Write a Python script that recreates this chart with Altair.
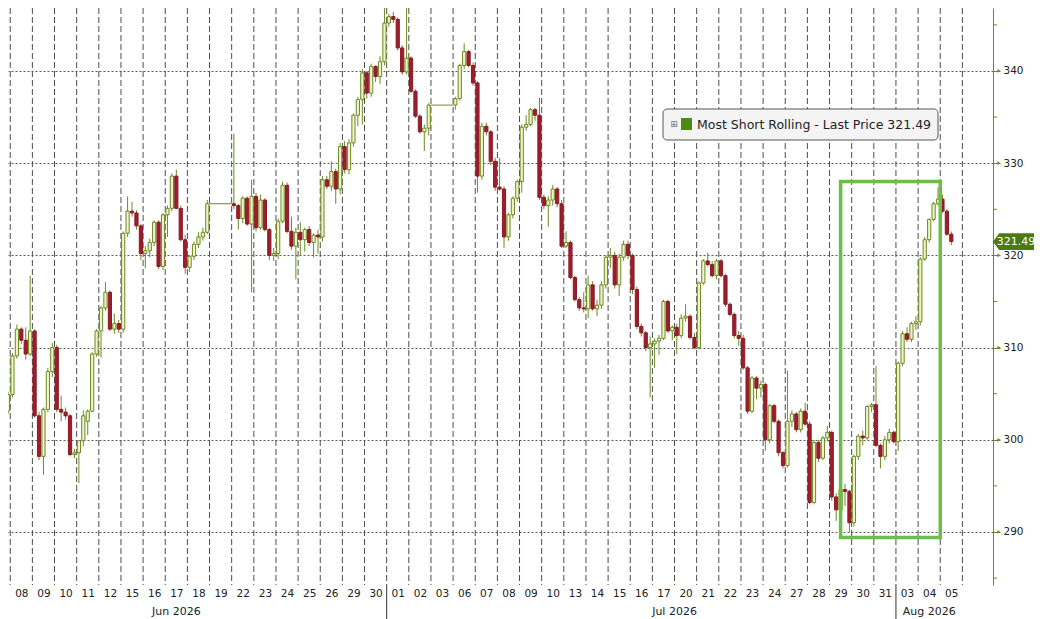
import json

import altair as alt
import pandas as pd

# ---- values ---------------------------------------------------------------
day_labels = ["05", "08", "09", "10", "11", "12", "15", "16", "17", "18", "19",
              "22", "23", "24", "25", "26", "29", "30", "01", "02", "03", "06",
              "07", "08", "09", "10", "13", "14", "15", "16", "17", "20", "21",
              "22", "23", "24", "27", "28", "29", "30", "31", "03", "04", "05"]
month_names = ["Jun 2026", "Jul 2026", "Aug 2026"]
month_first_day = [0, 18, 41]
month_label_day = [8, 30.5, 42]
holiday_days = [10, 20]
holiday_levels = [325.6, 336.3]
price_ticks = [290, 300, 310, 320, 330, 340]
minor_ticks = [285, 295, 305, 315, 325, 335, 345]
series_name = "Most Short Rolling"
highlight_days = [38, 42.5]
highlight_prices = [289.4, 328.0]

# one line per trading day (5 bars a day, last day partial)
opens = [
    302.0, 302.3, 302.6, 302.9, 303.1,
    304.9, 309.1, 312.0, 310.8, 309.3,
    311.8, 302.6, 298.2, 303.3, 307.4,
    310.0, 303.3, 303.0, 302.6, 298.4,
    298.6, 299.9, 302.0, 303.1, 309.3,
    311.8, 314.3, 316.0, 312.0, 312.6,
    312.0, 322.4, 324.8, 324.6, 323.2,
    320.2, 320.5, 321.4, 323.6, 318.8,
    324.4, 325.1, 328.6, 325.1, 321.7,
    318.7, 319.9, 321.2, 322.0, 322.5,
    325.6, 325.4, 324.0, 326.2, 323.4,
    326.4, 323.0, 326.0, 322.8, 320.0,
    320.2, 323.7, 327.6, 322.6, 321.0,
    322.5, 321.7, 322.8, 321.4, 322.2,
    322.0, 328.2, 327.5, 329.1, 327.2,
    331.8, 329.3, 332.2, 335.2, 336.9,
    339.8, 337.6, 340.5, 339.4, 341.0,
    345.2, 345.9, 345.6, 342.5, 339.9,
    341.4, 337.8, 335.1, 333.4, 333.8,
    336.3, 337.0, 340.6, 342.1, 340.6,
    338.7, 328.6, 334.0, 333.4, 330.2,
    327.4, 327.2, 322.0, 324.4, 326.2,
    328.0, 333.9, 334.2, 335.8, 335.2,
    326.3, 325.4, 326.0, 327.2, 325.6,
    321.0, 321.4, 317.6, 315.2, 314.3,
    314.2, 316.8, 314.2, 314.6, 316.8,
    319.8, 320.0, 316.8, 319.8, 321.2,
    320.0, 316.3, 312.3, 311.6, 310.0,
    310.4, 310.7, 311.0, 315.0, 311.8,
    312.2, 311.3, 313.2, 313.4, 311.1,
    310.0, 317.0, 319.4, 319.0, 317.8,
    319.4, 317.8, 314.7, 313.6, 311.3,
    311.0, 307.8, 303.1, 306.7, 305.6,
    306.0, 300.0, 303.7, 302.0, 298.6,
    297.2, 302.0, 302.8, 301.1, 303.1,
    301.7, 293.2, 299.7, 298.0, 300.2,
    300.8, 293.8, 292.4, 294.6, 294.4,
    291.0, 298.2, 300.4, 300.2, 303.6,
    303.8, 299.4, 298.2, 300.0, 300.8,
    299.8, 308.3, 311.5, 310.9, 312.6,
    312.8, 319.6, 321.7, 323.9, 325.6,
    326.1, 324.8, 322.3,
]
highs = [
    302.8, 303.0, 303.4, 304.0, 305.2,
    309.4, 312.5, 312.2, 312.2, 317.8,
    312.0, 303.0, 303.5, 307.8, 310.5,
    310.3, 304.8, 303.5, 302.8, 299.0,
    299.9, 303.2, 303.3, 309.5, 312.0,
    314.5, 317.1, 316.2, 313.7, 313.0,
    322.6, 326.4, 325.8, 324.9, 323.4,
    321.0, 321.8, 323.8, 323.8, 324.6,
    325.4, 328.9, 329.3, 325.4, 322.2,
    320.0, 321.5, 322.5, 323.0, 326.0,
    333.2, 325.6, 326.4, 326.4, 328.2,
    326.8, 326.6, 326.2, 323.0, 320.8,
    324.0, 328.0, 327.9, 324.2, 323.0,
    323.6, 323.0, 323.2, 322.4, 322.8,
    328.6, 328.6, 330.2, 329.4, 332.2,
    332.4, 332.6, 335.4, 337.2, 340.2,
    340.0, 340.8, 340.6, 341.6, 347.0,
    346.2, 346.4, 345.8, 342.8, 347.7,
    341.6, 338.0, 335.3, 334.2, 336.5,
    337.2, 340.8, 343.0, 342.3, 340.9,
    338.9, 334.4, 334.4, 333.6, 330.6,
    330.6, 327.5, 324.6, 326.4, 328.2,
    334.2, 335.2, 336.0, 336.0, 337.1,
    326.6, 326.4, 327.6, 327.4, 326.0,
    322.6, 321.6, 317.8, 315.5, 316.0,
    317.8, 317.2, 315.2, 317.2, 320.0,
    320.8, 320.4, 320.2, 321.6, 321.6,
    320.2, 316.6, 312.6, 311.8, 311.2,
    311.0, 311.4, 315.2, 315.2, 312.4,
    312.6, 313.6, 314.7, 313.6, 311.6,
    317.2, 319.6, 320.3, 319.4, 319.6,
    319.6, 318.0, 314.9, 313.8, 311.8,
    311.4, 308.0, 306.9, 306.9, 306.4,
    306.2, 303.9, 303.9, 302.2, 298.8,
    307.5, 303.2, 303.0, 303.4, 304.0,
    302.0, 300.0, 300.0, 300.4, 301.5,
    301.0, 294.2, 299.6, 295.2, 294.6,
    298.4, 300.6, 301.0, 303.8, 304.0,
    308.0, 299.6, 300.4, 301.2, 301.0,
    308.5, 311.8, 312.2, 312.8, 313.4,
    319.8, 322.0, 324.0, 325.8, 327.4,
    326.6, 325.0, 322.6,
]
lows = [
    301.2, 301.8, 302.0, 302.6, 302.8,
    304.6, 308.8, 310.4, 308.7, 309.1,
    302.4, 297.8, 296.2, 303.0, 306.8,
    303.0, 302.0, 302.2, 298.2, 298.0,
    295.3, 299.3, 300.5, 303.0, 309.0,
    308.9, 314.0, 311.8, 311.5, 311.6,
    311.6, 322.0, 324.2, 322.8, 319.5,
    318.6, 319.8, 321.0, 318.5, 318.4,
    322.0, 324.8, 325.0, 321.5, 318.0,
    318.2, 319.5, 320.8, 321.6, 322.3,
    325.0, 322.8, 323.5, 323.2, 316.0,
    322.6, 322.8, 322.6, 319.5, 319.4,
    319.6, 323.5, 322.4, 320.6, 317.4,
    320.0, 320.4, 321.0, 319.8, 320.2,
    321.5, 327.2, 327.0, 325.6, 326.6,
    328.9, 328.8, 331.8, 334.0, 334.2,
    337.0, 337.2, 338.8, 338.6, 340.6,
    344.8, 345.2, 342.2, 339.6, 339.6,
    337.6, 334.9, 333.2, 331.3, 333.0,
    335.8, 336.8, 340.2, 340.4, 338.4,
    326.8, 328.2, 333.0, 329.8, 327.0,
    327.0, 320.8, 321.6, 324.0, 325.8,
    326.8, 333.5, 334.0, 334.6, 326.0,
    325.0, 323.1, 325.4, 325.2, 320.8,
    320.8, 317.4, 315.0, 314.0, 313.8,
    313.2, 314.0, 313.4, 314.2, 316.4,
    318.6, 316.4, 315.6, 319.4, 319.6,
    315.8, 312.0, 311.2, 309.6, 304.6,
    307.8, 309.2, 310.8, 311.6, 310.8,
    309.3, 311.0, 312.8, 310.9, 309.8,
    309.8, 316.8, 318.8, 317.6, 317.4,
    317.6, 314.4, 313.4, 311.0, 310.2,
    307.6, 302.8, 302.9, 304.4, 304.6,
    298.8, 299.6, 301.8, 298.2, 296.9,
    297.0, 301.4, 300.8, 300.8, 301.5,
    293.0, 293.0, 297.6, 297.8, 299.8,
    293.4, 291.2, 292.0, 292.8, 290.0,
    290.6, 297.8, 299.4, 300.0, 303.0,
    299.2, 296.9, 297.8, 299.6, 299.6,
    298.8, 308.0, 310.6, 310.6, 311.9,
    312.4, 319.4, 321.4, 323.7, 325.4,
    324.6, 322.1, 321.1,
]
closes = [
    302.3, 302.6, 302.9, 303.1, 304.9,
    309.1, 312.0, 310.8, 309.3, 311.8,
    302.6, 298.2, 303.3, 307.4, 310.0,
    303.3, 303.0, 302.6, 298.4, 298.6,
    299.9, 302.6, 303.1, 309.3, 311.8,
    314.3, 316.0, 312.0, 312.6, 312.0,
    322.4, 324.8, 324.6, 323.2, 320.2,
    320.5, 321.4, 323.6, 318.8, 324.4,
    325.1, 328.6, 325.1, 321.7, 318.7,
    319.9, 321.2, 322.0, 322.5, 325.6,
    325.4, 324.0, 326.2, 323.4, 326.4,
    323.0, 326.0, 322.8, 320.0, 320.2,
    323.7, 327.6, 322.6, 321.0, 322.5,
    321.7, 322.8, 321.4, 322.2, 322.0,
    328.2, 327.5, 329.1, 327.2, 331.8,
    329.3, 332.2, 335.2, 336.9, 339.8,
    337.6, 340.5, 339.4, 341.0, 345.2,
    345.9, 345.6, 342.5, 339.9, 341.4,
    337.8, 335.1, 333.4, 333.8, 336.3,
    337.0, 340.6, 342.1, 340.6, 338.7,
    328.6, 334.0, 333.4, 330.2, 327.4,
    327.2, 322.0, 324.4, 326.2, 328.0,
    333.9, 334.2, 335.8, 335.2, 326.3,
    325.4, 326.0, 327.2, 325.6, 321.0,
    321.4, 317.6, 315.2, 314.3, 314.2,
    316.8, 314.2, 314.6, 316.8, 319.8,
    320.0, 316.8, 319.8, 321.2, 320.0,
    316.3, 312.3, 311.6, 310.0, 310.4,
    310.7, 311.0, 315.0, 311.8, 312.2,
    311.3, 313.2, 313.4, 311.1, 310.0,
    317.0, 319.4, 319.0, 317.8, 319.4,
    317.8, 314.7, 313.6, 311.3, 311.0,
    307.8, 303.1, 306.7, 305.6, 306.0,
    300.0, 303.7, 302.0, 298.6, 297.2,
    302.0, 302.8, 301.1, 303.1, 301.7,
    293.2, 299.7, 298.0, 300.2, 300.8,
    293.8, 292.4, 294.6, 294.4, 291.0,
    298.2, 300.4, 300.2, 303.6, 303.8,
    299.4, 298.2, 300.0, 300.8, 299.8,
    308.3, 311.5, 310.9, 312.6, 312.8,
    319.6, 321.7, 323.9, 325.6, 326.1,
    324.8, 322.3, 321.49,
]

# ---- layout ----------------------------------------------------------------
PER_DAY = 5
W, H = 985, 577
RIGHT = 41  # page width left after the 8px body margins
OLIVE = "#6b8a1d"
UP_FILL = "#eef3cc"
DOWN_FILL = "#9e1c2b"
BOX_GREEN = "#6cbd4a"
TAG_GREEN = "#4c7a12"
TAG_SHAPE = "M -1 0 L -0.7 -0.41 L 1 -0.41 L 1 0.41 L -0.7 0.41 Z"

rows = []
k = 0
for d in range(len(day_labels)):
    if d in holiday_days:
        continue
    n = min(PER_DAY, len(closes) - k)
    for j in range(n):
        rows.append({"x": d + (j - 2) / PER_DAY, "o": opens[k], "h": highs[k],
                     "l": lows[k], "c": closes[k]})
        k += 1
candles = pd.DataFrame(rows)

bounds = pd.DataFrame({"b": [d + 0.5 for d in range(len(day_labels))]})
holidays = pd.DataFrame({"x0": [d - 0.5 for d in holiday_days],
                         "x1": [d + 0.5 for d in holiday_days],
                         "p": holiday_levels})
months = pd.DataFrame({"d": month_label_day, "name": month_names})
month_bounds = pd.DataFrame({"b": [d - 0.5 for d in month_first_day[1:]]})
box = pd.DataFrame({"x0": [highlight_days[0]], "x1": [highlight_days[1]],
                    "y0": [highlight_prices[0]], "y1": [highlight_prices[1]]})
last = pd.DataFrame({"p": [closes[-1]], "t": [f"{closes[-1]:.2f}"]})
legend = pd.DataFrame({"t": [f"{series_name} - Last Price {closes[-1]:.2f}"]})
major = pd.DataFrame({"v": price_ticks})
minor = pd.DataFrame({"v": minor_ticks})

x_scale = alt.Scale(domain=[0.6245, 44.657], nice=False, zero=False)
y_scale = alt.Scale(domain=[284.25, 346.83], nice=False, zero=False)

# the same axis objects go on every layer so that Vega-Lite merges them
x_axis = alt.Axis(values=list(range(len(day_labels))),
                  labelExpr=f"{json.dumps(day_labels)}[datum.value]",
                  grid=False, domain=False, ticks=False, tickSize=0,
                  labelPadding=3, labelFontSize=10.5, labelColor="#222",
                  labelFlush=False, labelOverlap=False, title="")
y_axis = alt.Axis(orient="right", values=price_ticks, format="d",
                  grid=True, gridDash=[2, 2], gridColor="#5a5a5a",
                  domainColor=OLIVE, tickColor=OLIVE, tickSize=7,
                  labelPadding=3, labelFontSize=10.5, labelColor="#222",
                  labelFlush=False, title="")


def X(field):
    return alt.X(field, scale=x_scale, axis=x_axis)


def Y(field):
    return alt.Y(field, scale=y_scale, axis=y_axis)


day_grid = alt.Chart(bounds).mark_rule(
    color="#4d4d4d", strokeDash=[6, 3], strokeWidth=1, clip=True
).encode(x=X("b:Q"), y=alt.value(0), y2=alt.value(H))

wicks = alt.Chart(candles).mark_rule(color=OLIVE, strokeWidth=1, clip=True).encode(
    x=X("x:Q"), y=Y("l:Q"), y2="h:Q",
)

is_up = "datum.c >= datum.o"
bodies = alt.Chart(candles).mark_bar(size=3.2, strokeWidth=1, clip=True).encode(
    x=X("x:Q"), y=Y("o:Q"), y2="c:Q",
    fill=alt.condition(is_up, alt.value(UP_FILL), alt.value(DOWN_FILL)),
    stroke=alt.condition(is_up, alt.value(OLIVE), alt.value("#8a1a26")),
)

flat = alt.Chart(holidays).mark_rule(color=OLIVE, strokeWidth=1).encode(
    x=X("x0:Q"), x2="x1:Q", y=Y("p:Q"),
)

highlight = alt.Chart(box).mark_rect(
    fillOpacity=0, stroke=BOX_GREEN, strokeWidth=3.5
).encode(x=X("x0:Q"), x2="x1:Q", y=Y("y0:Q"), y2="y1:Q")

minor_ticks_layer = alt.Chart(minor).mark_rule(color=OLIVE).encode(
    x=alt.value(W), x2=alt.value(W + 4), y=Y("v:Q"),
)
tick_heads = alt.Chart(major).mark_point(
    shape="triangle-right", size=14, filled=True, color=OLIVE, opacity=1
).encode(x=alt.value(W + 6), y=Y("v:Q"))

month_lines = alt.Chart(month_bounds).mark_rule(color="#333").encode(
    x=X("b:Q"), y=alt.value(H), y2=alt.value(H + 34),
)
month_text = alt.Chart(months).mark_text(
    fontSize=11, color="#222", baseline="middle"
).encode(x=X("d:Q"), y=alt.value(H + 27), text="name:N")

legend_box = alt.Chart(legend).mark_rect(
    fill="#f4f4f4", stroke="#555", strokeWidth=1, cornerRadius=4
).encode(x=alt.value(655), x2=alt.value(930), y=alt.value(101), y2=alt.value(132))
legend_icon = alt.Chart(legend).mark_text(
    text="⊞", fontSize=9, color="#777", baseline="middle"
).encode(x=alt.value(666), y=alt.value(115.5))
legend_swatch = alt.Chart(legend).mark_rect(fill="#4f8a12").encode(
    x=alt.value(673), x2=alt.value(684), y=alt.value(110), y2=alt.value(122))
legend_text = alt.Chart(legend).mark_text(
    align="left", baseline="middle", fontSize=12.5, color="#222"
).encode(x=alt.value(689), y=alt.value(116.5), text="t:N")

price_tag = alt.Chart(last).mark_point(
    shape=TAG_SHAPE, size=RIGHT * RIGHT, filled=True, fill=TAG_GREEN, opacity=1,
    strokeWidth=0
).encode(x=alt.value(W + RIGHT / 2), y=Y("p:Q"))
price_text = alt.Chart(last).mark_text(
    color="white", fontSize=11, baseline="middle"
).encode(x=alt.value(W + 23), y=Y("p:Q"), text="t:N")

chart = alt.layer(
    day_grid, wicks, bodies, flat, highlight, minor_ticks_layer, tick_heads,
    month_lines, month_text, legend_box, legend_icon, legend_swatch, legend_text,
    price_tag, price_text,
).properties(
    width=W, height=H,
    padding={"left": 0, "top": 0, "right": RIGHT, "bottom": 34},
    autosize=alt.AutoSizeParams(type="none"),
).configure(font="DejaVu Sans").configure_view(strokeWidth=0)

chart.save("out.html", embed_options={"renderer": "svg", "actions": False})
